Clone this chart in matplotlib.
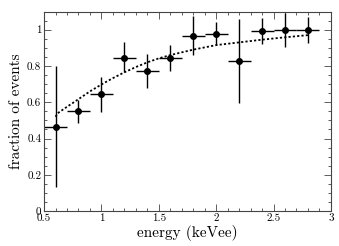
import matplotlib
matplotlib.use("Agg")
import matplotlib.pyplot as plt
from matplotlib.ticker import MultipleLocator, FormatStrFormatter

# data
energy = [0.6, 0.8, 1.0, 1.2, 1.4, 1.6, 1.8, 2.0, 2.2, 2.4, 2.6, 2.8]
energy_err = [0.1] * len(energy)
frac = [0.465, 0.551, 0.643, 0.845, 0.770, 0.842, 0.966, 0.977, 0.825, 0.992, 0.998, 0.998]
err_lo = [0.335, 0.065, 0.096, 0.077, 0.094, 0.070, 0.106, 0.062, 0.231, 0.073, 0.092, 0.074]
err_hi = [0.335, 0.059, 0.097, 0.085, 0.094, 0.073, 0.109, 0.065, 0.233, 0.070, 0.095, 0.073]

# dotted fit curve
fit_x = [0.6, 0.62, 0.7, 0.8, 0.9, 1.0, 1.1, 1.2, 1.3, 1.4, 1.5, 1.6, 1.8, 2.0, 2.2, 2.4, 2.6, 2.8]
fit_y = [0.52, 0.54, 0.575, 0.617, 0.66, 0.698, 0.733, 0.765, 0.794, 0.82, 0.842, 0.86, 0.89, 0.915, 0.93, 0.945, 0.958, 0.970]

plt.rcParams["font.family"] = "serif"
plt.rcParams["font.serif"] = ["cmr10", "DejaVu Serif"]
plt.rcParams["mathtext.fontset"] = "cm"
plt.rcParams["axes.formatter.use_mathtext"] = True

fig = plt.figure(figsize=(3.39, 2.46), dpi=100)
ax = fig.add_axes([0.13, 0.142, 0.846, 0.811])

ax.plot(fit_x, fit_y, color="black", linestyle=(0, (1.2, 1.2)), lw=1.3)
ax.errorbar(energy, frac, xerr=energy_err, yerr=[err_lo, err_hi],
            fmt="o", color="black", ms=4, elinewidth=1, capsize=0)

ax.set_xlim(0.5, 3)
ax.set_ylim(0, 1.1)
ax.xaxis.set_major_locator(MultipleLocator(0.5))
ax.xaxis.set_minor_locator(MultipleLocator(0.1))
ax.yaxis.set_major_locator(MultipleLocator(0.2))
ax.yaxis.set_minor_locator(MultipleLocator(0.05))
ax.xaxis.set_major_formatter(FormatStrFormatter("%g"))
ax.yaxis.set_major_formatter(FormatStrFormatter("%g"))
ax.tick_params(which="both", direction="in", top=True, right=True, labelsize=8, pad=2,
               color="#444444")
ax.tick_params(which="major", length=5, width=0.6)
ax.tick_params(which="minor", length=2.5, width=0.6)
for s in ax.spines.values():
    s.set_linewidth(0.8)
    s.set_color("#444444")

ax.set_xlabel("energy (keVee)", fontsize=11, labelpad=1)
ax.set_ylabel("fraction of events", fontsize=11, labelpad=3)

fig.savefig("out.png", dpi=100)
